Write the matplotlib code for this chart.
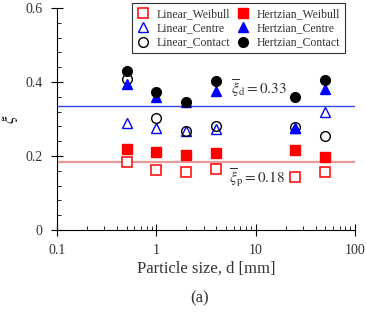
import matplotlib
matplotlib.use("Agg")
import matplotlib.pyplot as plt
from matplotlib.ticker import MultipleLocator, LogLocator, FixedLocator

plt.rcParams["font.family"] = "serif"
plt.rcParams["font.serif"] = ["Liberation Serif", "DejaVu Serif"]
plt.rcParams["mathtext.fontset"] = "stix"

d = [0.5, 1, 2, 4, 25, 50]
linear_weibull = [0.185, 0.162, 0.156, 0.165, 0.144, 0.158]
hertz_weibull = [0.218, 0.210, 0.203, 0.207, 0.216, 0.196]
linear_centre = [0.288, 0.275, 0.268, 0.272, 0.276, 0.320]
hertz_centre = [0.394, 0.359, 0.345, 0.377, 0.276, 0.380]
linear_contact = [0.407, 0.302, 0.268, 0.281, 0.278, 0.255]
hertz_contact = [0.430, 0.374, 0.345, 0.403, 0.360, 0.405]
xi_d = 0.335
xi_p = 0.185

txt = "#333333"

fig = plt.figure(figsize=(3.66, 3.12), dpi=100)
ax = fig.add_axes([0.156, 0.263, 0.814, 0.711])

ax.axhline(xi_d, color="#3344ee", lw=1.0, zorder=1)
ax.axhline(xi_p, color="#e89a9a", lw=1.6, zorder=1)

ms = 6.5
ax.plot(d, linear_weibull, "s", ms=ms, mfc="white", mec="red", mew=1.1, ls="none", label="Linear_Weibull")
ax.plot(d, linear_centre, "^", ms=ms, mfc="none", mec="blue", mew=1.0, ls="none", label="Linear_Centre")
ax.plot(d, linear_contact, "o", ms=ms + 0.5, mfc="none", mec="black", mew=1.0, ls="none", label="Linear_Contact")
ax.plot(d, hertz_weibull, "s", ms=ms, color="red", ls="none", label="Hertzian_Weibull")
ax.plot(d, hertz_centre, "^", ms=ms, color="blue", ls="none", label="Hertzian_Centre")
ax.plot(d, hertz_contact, "o", ms=ms + 0.5, color="black", ls="none", label="Hertzian_Contact")

ax.set_xscale("log")
ax.set_xlim(0.1, 100)
ax.set_ylim(0, 0.6)
ax.set_xticks([0.1, 1, 10, 100])
ax.set_xticklabels(["0.1", "1", "10", "100"])
ax.xaxis.set_minor_locator(LogLocator(base=10, subs=range(2, 10)))
ax.yaxis.set_major_locator(FixedLocator([0, 0.2, 0.4, 0.6]))
ax.set_yticklabels(["0", "0.2", "0.4", "0.6"])
ax.yaxis.set_minor_locator(MultipleLocator(0.04))

for s in ["top", "right"]:
    ax.spines[s].set_visible(False)
ax.tick_params(which="major", direction="inout", length=8, width=0.8, labelsize=10, labelcolor=txt)
ax.tick_params(which="minor", direction="in", length=3, width=0.6)
ax.tick_params(axis="y", which="major", pad=6.5)
ax.tick_params(axis="x", which="major", pad=6)

ax.set_xlabel("Particle size, d [mm]", fontsize=12, color=txt, labelpad=3)
ax.set_ylabel(r"$\xi$", fontsize=12, rotation=90)
ax.yaxis.set_label_coords(-0.125, 0.5)

ax.text(5.7, 0.365, r"$\overline{\xi}_{\rm d}={\rm 0.33}$", fontsize=11, color=txt)
ax.text(5.4, 0.126, r"$\overline{\xi}_{\rm p}={\rm 0.18}$", fontsize=11, color=txt)

leg = ax.legend(ncol=2, loc="upper right", bbox_to_anchor=(0.966, 1.022), borderaxespad=0,
                fontsize=8.5, frameon=True, fancybox=False, edgecolor="black",
                handlelength=1.0, handletextpad=0.7, columnspacing=0.5,
                borderpad=0.4, labelspacing=0.2)
leg.get_frame().set_linewidth(0.8)
for t in leg.get_texts():
    t.set_color(txt)

fig.text(0.545, 0.03, "(a)", ha="center", fontsize=12, color=txt)

fig.savefig("out.png", dpi=100)
